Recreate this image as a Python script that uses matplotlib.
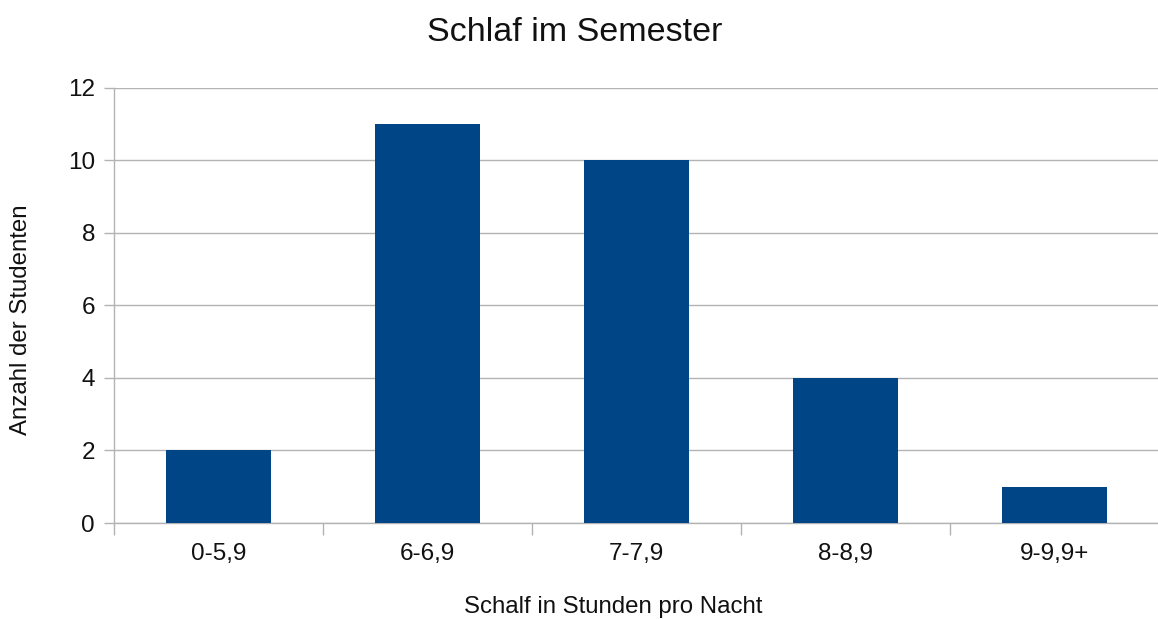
import matplotlib
matplotlib.use("Agg")
import matplotlib.pyplot as plt
import numpy as np

categories = ["0-5,9", "6-6,9", "7-7,9", "8-8,9", "9-9,9+"]
values = [2, 11, 10, 4, 1]
yticks = [0, 2, 4, 6, 8, 10, 12]

W, H = 1158, 619
plt.rcParams['font.family'] = ['Liberation Sans', 'DejaVu Sans']

fig = plt.figure(figsize=(W / 100, H / 100), dpi=100)
ax = fig.add_axes([114 / W, 1 - 523 / H, (1159 - 114) / W, (523 - 87.5) / H])

x = np.arange(len(categories))
ax.bar(x, values, width=0.5, color="#004586", zorder=3)

ax.set_xlim(-0.5, len(categories) - 0.5)
ax.set_ylim(0, 12)
ax.set_yticks(yticks)
ax.set_yticklabels([str(v) for v in yticks], fontsize=17.5)
ax.set_xticks(x)
ax.set_xticklabels(categories, fontsize=17.5)
ax.set_xticks(np.arange(len(categories) + 1) - 0.5, minor=True)

ax.tick_params(axis='x', which='major', length=0, pad=14.5, colors='#111111')
ax.tick_params(axis='x', which='minor', length=8.6, width=1, color='#b3b3b3')
ax.tick_params(axis='y', which='major', length=7.2, width=1, color='#b3b3b3', pad=6.5, labelcolor='#111111')

ax.grid(axis='y', color='#b3b3b3', linewidth=1, zorder=0)
for s in ['top', 'right']:
    ax.spines[s].set_visible(False)
for s in ['left', 'bottom']:
    ax.spines[s].set_color('#b3b3b3')
    ax.spines[s].set_linewidth(1)

fig.text(575 / W, 1 - 41 / H, "Schlaf im Semester", ha='center', va='baseline',
         fontsize=24.5, color='#111111')
fig.text(613 / W, 1 - 613 / H, "Schalf in Stunden pro Nacht", ha='center', va='baseline',
         fontsize=17.3, color='#111111')
fig.text(21 / W, 1 - 320 / H, "Anzahl der Studenten", ha='center', va='center',
         rotation=90, fontsize=17.3, color='#111111')

fig.savefig("out.png", dpi=100, facecolor='white')
